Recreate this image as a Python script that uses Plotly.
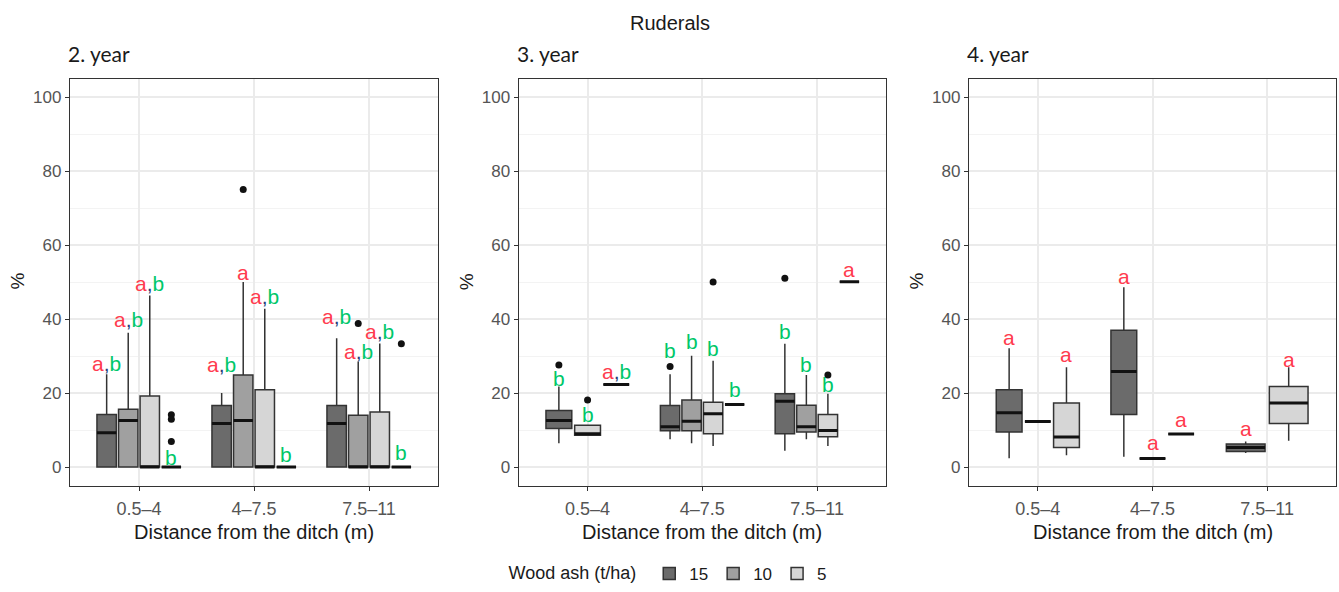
import plotly.graph_objects as go

CATEGORIES = ["0.5–4", "4–7.5", "7.5–11"]
GROUPS = ["15", "10", "5", "0"]
LEGEND_GROUPS = ["15", "10", "5"]
PANEL_TITLES = ["2. year", "3. year", "4. year"]

# box statistics per distance class: [lower whisker, q1, median, q3, upper whisker]; None = absent
y2_g15 = [[0, 0, 9.3, 14.2, 25.1], [0, 0, 11.8, 16.6, 20.0], [0, 0, 11.8, 16.6, 34.8]]
y2_g10 = [[0, 0, 12.6, 15.6, 36.3], [0, 0, 12.6, 24.9, 50.0], [0, 0, 0, 14.0, 28.5]]
y2_g5 = [[0, 0, 0, 19.2, 46.4], [0, 0, 0, 20.9, 42.8], [0, 0, 0, 14.9, 33.4]]
y2_g0 = [[0, 0, 0, 0, 0], [0, 0, 0, 0, 0], [0, 0, 0, 0, 0]]

y3_g15 = [[6.4, 10.4, 12.6, 15.3, 21.8], [7.5, 9.8, 10.9, 16.6, 25.1], [4.4, 9.0, 17.8, 19.8, 33.3]]
y3_g10 = [None, [6.4, 9.8, 12.4, 18.1, 30.1], [7.5, 9.5, 10.9, 16.7, 24.9]]
y3_g5 = [[8.6, 8.6, 9.0, 11.3, 11.3], [5.7, 9.0, 14.4, 17.5, 28.7], [5.7, 8.2, 9.9, 14.2, 19.8]]
y3_g0 = [[22.3, 22.3, 22.3, 22.3, 22.3], [16.9, 16.9, 16.9, 16.9, 16.9], [50.1, 50.1, 50.1, 50.1, 50.1]]

y4_g15 = [[2.4, 9.5, 14.7, 20.9, 32.1], [2.8, 14.2, 25.8, 37.0, 48.6], [3.8, 4.2, 5.3, 6.2, 6.9]]
y4_g10 = [[12.3, 12.3, 12.3, 12.3, 12.3], [2.3, 2.3, 2.3, 2.3, 2.3], None]
y4_g5 = [[3.2, 5.3, 8.1, 17.3, 27.0], [8.9, 8.9, 8.9, 8.9, 8.9], [7.1, 11.8, 17.3, 21.8, 27.0]]
y4_g0 = [None, None, None]

# outliers: category index, group, value
y2_out_cat = [0, 0, 0, 1, 2, 2]
y2_out_grp = ["0", "0", "0", "10", "10", "0"]
y2_out_val = [14.1, 12.9, 6.9, 75.0, 38.8, 33.3]

y3_out_cat = [0, 0, 1, 1, 2, 2]
y3_out_grp = ["15", "5", "15", "5", "15", "5"]
y3_out_val = [27.6, 18.1, 27.2, 50.0, 51.0, 24.9]

y4_out_cat = []
y4_out_grp = []
y4_out_val = []

# significance letters: category index, group, letters, height
y2_lab_cat = [0, 0, 0, 0, 1, 1, 1, 1, 2, 2, 2, 2]
y2_lab_grp = ["15", "10", "5", "0", "15", "10", "5", "0", "15", "10", "5", "0"]
y2_lab_txt = ["ab", "ab", "ab", "b", "ab", "a", "ab", "b", "ab", "ab", "ab", "b"]
y2_lab_y = [28.0, 40.0, 49.5, 2.6, 27.6, 52.6, 46.0, 3.5, 40.6, 31.2, 36.7, 3.9]

y3_lab_cat = [0, 0, 0, 1, 1, 1, 1, 2, 2, 2, 2]
y3_lab_grp = ["15", "5", "0", "15", "10", "5", "0", "15", "10", "5", "0"]
y3_lab_txt = ["b", "b", "ab", "b", "b", "b", "b", "b", "b", "b", "a"]
y3_lab_y = [24.0, 14.2, 25.8, 31.6, 33.9, 32.1, 20.9, 36.6, 27.6, 22.3, 53.5]

y4_lab_cat = [0, 0, 1, 1, 1, 2, 2]
y4_lab_grp = ["15", "5", "15", "10", "5", "15", "5"]
y4_lab_txt = ["a", "a", "a", "a", "a", "a", "a"]
y4_lab_y = [35.0, 30.5, 51.6, 6.6, 12.9, 10.4, 29.1]

FILL = {"15": "#6b6b6b", "10": "#a0a0a0", "5": "#d6d6d6", "0": "#ffffff"}
RED = "#ff3b4e"
GREEN = "#00c76a"
COMMA = "#1f3d7a"

panels = [
    ({"15": y2_g15, "10": y2_g10, "5": y2_g5, "0": y2_g0},
     (y2_out_cat, y2_out_grp, y2_out_val),
     (y2_lab_cat, y2_lab_grp, y2_lab_txt, y2_lab_y)),
    ({"15": y3_g15, "10": y3_g10, "5": y3_g5, "0": y3_g0},
     (y3_out_cat, y3_out_grp, y3_out_val),
     (y3_lab_cat, y3_lab_grp, y3_lab_txt, y3_lab_y)),
    ({"15": y4_g15, "10": y4_g10, "5": y4_g5, "0": y4_g0},
     (y4_out_cat, y4_out_grp, y4_out_val),
     (y4_lab_cat, y4_lab_grp, y4_lab_txt, y4_lab_y)),
]

W, H = 1339, 592
X_DOMAINS = [(70 / W, 438 / W), (518.7 / W, 886 / W), (969 / W, 1336 / W)]
Y_DOMAIN = ((592 - 488) / H, (592 - 79) / H)


def layout_positions(stats):
    pos = {}
    for k in range(len(CATEGORIES)):
        present = [g for g in GROUPS if stats[g][k] is not None]
        n = len(present)
        slot = 0.75 / n
        for i, g in enumerate(present):
            pos[(k, g)] = ((k + 1) - 0.375 + (i + 0.5) * slot, 0.9 * slot)
    return pos


def letters_html(t):
    if t == "ab":
        return (f"<span style='color:{RED}'>a</span><span style='color:{COMMA}'>,</span>"
                f"<span style='color:{GREEN}'>b</span>")
    if t == "a":
        return f"<span style='color:{RED}'>a</span>"
    return f"<span style='color:{GREEN}'>b</span>"


fig = go.Figure()
annotations = []
shown = set()

for p, (stats, outs, labs) in enumerate(panels):
    xa = "x" if p == 0 else f"x{p + 1}"
    ya = "y" if p == 0 else f"y{p + 1}"
    pos = layout_positions(stats)
    mx, my = [], []
    for g in GROUPS:
        for k in range(len(CATEGORIES)):
            s = stats[g][k]
            if s is None:
                continue
            cx, w = pos[(k, g)]
            show = g in LEGEND_GROUPS and g not in shown
            if show:
                shown.add(g)
            fig.add_trace(go.Box(
                x=[cx], lowerfence=[s[0]], q1=[s[1]], median=[s[2]], q3=[s[3]], upperfence=[s[4]],
                width=w, fillcolor=FILL[g], line=dict(color="#333333", width=1.5),
                whiskerwidth=0, boxpoints=False, name=g, legendgroup=g,
                showlegend=show, xaxis=xa, yaxis=ya, hoverinfo="skip"))
            mx += [cx - w / 2, cx + w / 2, None]
            my += [s[2], s[2], None]
    fig.add_trace(go.Scatter(x=mx, y=my, mode="lines", line=dict(color="#111111", width=3),
                             showlegend=False, xaxis=xa, yaxis=ya, hoverinfo="skip"))
    oc, og, ov = outs
    if oc:
        fig.add_trace(go.Scatter(
            x=[pos[(k, g)][0] for k, g in zip(oc, og)], y=ov, mode="markers",
            marker=dict(color="#111111", size=7), showlegend=False, xaxis=xa, yaxis=ya,
            hoverinfo="skip"))
    lc, lg, lt, ly = labs
    for k, g, t, yv in zip(lc, lg, lt, ly):
        annotations.append(dict(x=pos[(k, g)][0], y=yv, xref=xa, yref=ya, text=letters_html(t),
                                showarrow=False, xanchor="center", yanchor="middle",
                                font=dict(size=21, family="Liberation Sans")))
    d0, d1 = X_DOMAINS[p]
    annotations.append(dict(x=d0 - 4 / W, y=(592 - 54) / H, xref="paper", yref="paper",
                            text=PANEL_TITLES[p], showarrow=False, xanchor="left",
                            yanchor="middle", font=dict(size=21, family="Lato", color="#1a1a1a")))
    annotations.append(dict(x=(d0 + d1) / 2, y=(592 - 535) / H, xref="paper", yref="paper",
                            text="Distance from the ditch (m)", showarrow=False,
                            xanchor="center", yanchor="middle",
                            font=dict(size=20, family="Liberation Sans", color="#1a1a1a")))
    annotations.append(dict(x=d0 - 52 / W, y=(592 - 283) / H, xref="paper", yref="paper",
                            text="%", showarrow=False, textangle=-90,
                            xanchor="center", yanchor="middle",
                            font=dict(size=19, family="Liberation Sans", color="#1a1a1a")))

annotations.append(dict(x=0.5, y=(592 - 23) / H, xref="paper", yref="paper", text="Ruderals",
                        showarrow=False, xanchor="center", yanchor="middle",
                        font=dict(size=20, family="Liberation Sans", color="#1a1a1a")))

axis_common_x = dict(range=[0.4, 3.6], tickmode="array", tickvals=[1, 2, 3], ticktext=CATEGORIES,
                     showgrid=True, gridcolor="#ebebeb", gridwidth=1.5, zeroline=False,
                     showline=True, linecolor="#333333", linewidth=1.3, mirror=True,
                     ticks="outside", ticklen=4, tickcolor="#333333", ticklabelstandoff=3,
                     tickfont=dict(size=18, family="Liberation Sans", color="#555555"),
                     automargin=False, fixedrange=True)
axis_common_y = dict(range=[-5, 105], tickmode="linear", tick0=0, dtick=20,
                     showgrid=True, gridcolor="#ebebeb", gridwidth=1.5, zeroline=False,
                     showline=True, linecolor="#333333", linewidth=1.3, mirror=True,
                     ticks="outside", ticklen=4, tickcolor="#333333",
                     tickfont=dict(size=17, family="Liberation Sans", color="#555555"),
                     minor=dict(dtick=10, showgrid=True, gridcolor="#f3f3f3", gridwidth=1),
                     automargin=False, fixedrange=True)

layout = dict(
    width=W, height=H, margin=dict(l=0, r=0, t=0, b=0),
    paper_bgcolor="white", plot_bgcolor="white", boxmode="overlay",
    annotations=annotations,
    legend=dict(orientation="h", x=0.5, xanchor="center", y=(592 - 577) / H, yanchor="middle",
                title=dict(text="Wood ash (t/ha) ", side="left",
                           font=dict(size=18, family="Liberation Sans", color="#1a1a1a")),
                font=dict(size=17, family="Liberation Sans", color="#1a1a1a"),
                traceorder="normal", bgcolor="rgba(0,0,0,0)"),
    font=dict(family="Liberation Sans"),
)
for p in range(3):
    sx = "xaxis" if p == 0 else f"xaxis{p + 1}"
    sy = "yaxis" if p == 0 else f"yaxis{p + 1}"
    ya = "y" if p == 0 else f"y{p + 1}"
    xa = "x" if p == 0 else f"x{p + 1}"
    layout[sx] = dict(axis_common_x, domain=list(X_DOMAINS[p]), anchor=ya)
    layout[sy] = dict(axis_common_y, domain=list(Y_DOMAIN), anchor=xa)

fig.update_layout(**layout)
fig.write_html("out.html")
